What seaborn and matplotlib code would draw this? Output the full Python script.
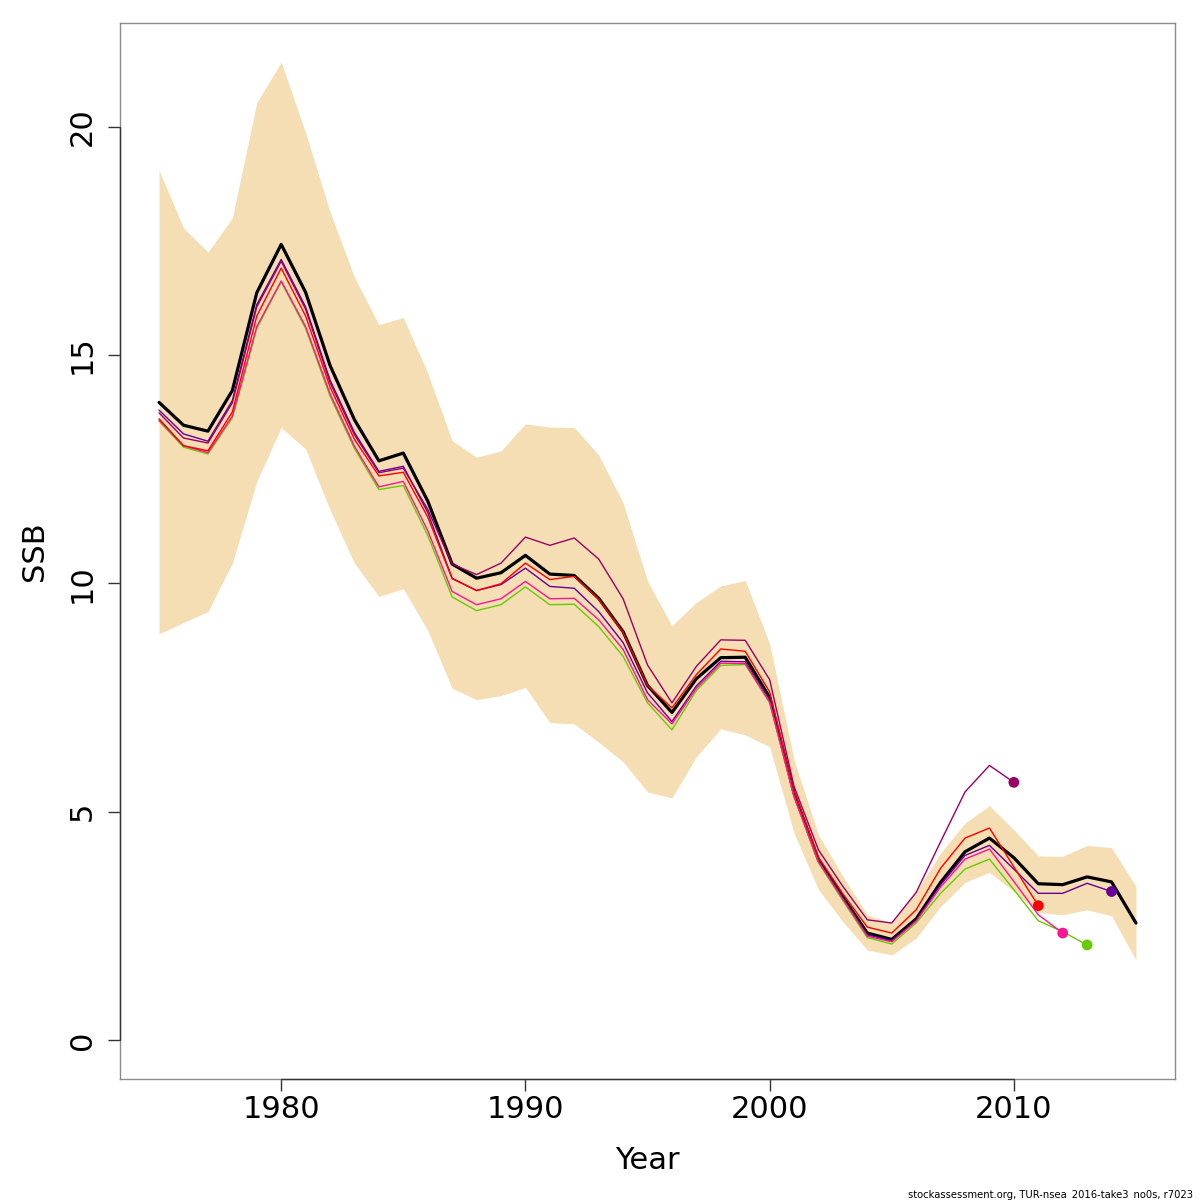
import matplotlib
matplotlib.use("Agg")
import numpy as np
import pandas as pd
import seaborn as sns
import matplotlib.pyplot as plt
from matplotlib.transforms import blended_transform_factory

# ---------------- data ----------------
years = list(range(1975, 2016))

ssb = [13.96, 13.46, 13.33, 14.22, 16.36, 17.42, 16.37, 14.77, 13.58, 12.68,
       12.85, 11.80, 10.42, 10.11, 10.23, 10.61, 10.20, 10.17, 9.67, 8.94,
       7.76, 7.17, 7.91, 8.37, 8.38, 7.50, 5.40, 3.94, 3.13, 2.34,
       2.20, 2.65, 3.45, 4.12, 4.42, 3.99, 3.42, 3.40, 3.57, 3.46,
       2.56]

ssb_upper = [19.04, 17.78, 17.25, 18.00, 20.52, 21.41, 19.86, 18.13, 16.70, 15.66,
             15.82, 14.60, 13.12, 12.76, 12.90, 13.49, 13.42, 13.41, 12.81, 11.76,
             10.05, 9.07, 9.58, 9.94, 10.06, 8.67, 6.13, 4.49, 3.58, 2.74,
             2.56, 3.25, 4.09, 4.75, 5.13, 4.60, 4.03, 4.02, 4.26, 4.21,
             3.36]

ssb_lower = [8.89, 9.14, 9.38, 10.44, 12.23, 13.41, 12.94, 11.61, 10.44, 9.71,
             9.88, 8.97, 7.70, 7.45, 7.54, 7.72, 6.95, 6.92, 6.52, 6.09,
             5.43, 5.30, 6.20, 6.81, 6.68, 6.42, 4.53, 3.29, 2.59, 1.97,
             1.86, 2.23, 2.92, 3.45, 3.67, 3.25, 2.79, 2.74, 2.85, 2.72,
             1.75]

retro_1 = [13.79, 13.27, 13.11, 14.00, 16.10, 17.09, 16.05, 14.45, 13.30, 12.45,
           12.56, 11.55, 10.11, 9.84, 9.97, 10.33, 9.93, 9.89, 9.38, 8.70,
           7.60, 6.97, 7.75, 8.29, 8.28, 7.45, 5.35, 3.92, 3.10, 2.30,
           2.17, 2.62, 3.40, 4.04, 4.26, 3.74, 3.21, 3.21, 3.43, 3.25]

retro_2 = [13.55, 12.98, 12.83, 13.62, 15.58, 16.60, 15.58, 14.10, 12.95, 12.05,
           12.14, 11.05, 9.70, 9.40, 9.53, 9.92, 9.53, 9.54, 9.05, 8.40,
           7.38, 6.79, 7.65, 8.20, 8.22, 7.38, 5.32, 3.88, 3.05, 2.24,
           2.10, 2.56, 3.21, 3.74, 3.96, 3.29, 2.61, 2.37, 2.08]

retro_3 = [13.57, 13.01, 12.86, 13.66, 15.62, 16.62, 15.62, 14.15, 13.00, 12.11,
           12.23, 11.15, 9.82, 9.53, 9.66, 10.04, 9.66, 9.67, 9.20, 8.55,
           7.45, 6.92, 7.70, 8.25, 8.24, 7.40, 5.33, 3.90, 3.08, 2.27,
           2.15, 2.60, 3.35, 3.96, 4.18, 3.47, 2.74, 2.34]

retro_4 = [13.60, 13.01, 12.90, 13.75, 15.85, 16.90, 15.85, 14.30, 13.15, 12.35,
           12.43, 11.45, 10.10, 9.84, 9.99, 10.44, 10.08, 10.15, 9.65, 8.92,
           7.76, 7.27, 8.00, 8.56, 8.51, 7.62, 5.45, 4.00, 3.20, 2.47,
           2.34, 2.85, 3.76, 4.42, 4.64, 3.79, 2.94]

retro_5 = [13.73, 13.18, 13.07, 13.95, 16.05, 17.05, 16.00, 14.40, 13.25, 12.42,
           12.52, 11.62, 10.42, 10.19, 10.44, 11.01, 10.83, 10.99, 10.53, 9.66,
           8.21, 7.38, 8.18, 8.76, 8.75, 7.89, 5.55, 4.16, 3.36, 2.63,
           2.56, 3.23, 4.34, 5.43, 6.01, 5.64]

retro_names = ["peel 1", "peel 2", "peel 3", "peel 4", "peel 5"]
retro_colors = ["#660099", "#66CC00", "#FF1493", "#FF0000", "#990066"]

x_ticks = [1980, 1990, 2000, 2010]
y_ticks = [0, 5, 10, 15, 20]
x_label = "Year"
y_label = "SSB"
footnote = "stockassessment.org, TUR-nsea_2016-take3_no0s, r7023"

# ---------------- tables ----------------
retro_vals = [retro_1, retro_2, retro_3, retro_4, retro_5]
rows = []
for name, vals in zip(retro_names, retro_vals):
    for yr, v in zip(years, vals):
        rows.append({"year": yr, "ssb": v, "peel": name})
retro_df = pd.DataFrame(rows)
end_df = retro_df.groupby("peel", sort=False).tail(1)
main_df = pd.DataFrame({"year": years, "ssb": ssb, "lo": ssb_lower, "hi": ssb_upper})

# ---------------- plot ----------------
sns.set_theme(style="ticks")
plt.rcParams["font.family"] = ["DejaVu Sans"]
plt.rcParams["text.color"] = "black"
plt.rcParams["axes.labelcolor"] = "black"

fig = plt.figure(figsize=(12, 12), dpi=100)
ax = fig.add_axes([0.1, 0.1008, 0.8792, 0.8800])

ax.fill_between(main_df["year"], main_df["lo"], main_df["hi"],
                color="#F5DEB3", lw=0, zorder=1)

sns.lineplot(data=main_df, x="year", y="ssb", color="black", lw=2.3,
             ax=ax, zorder=3, estimator=None)

pal = dict(zip(retro_names, retro_colors))
sns.lineplot(data=retro_df, x="year", y="ssb", hue="peel", palette=pal,
             lw=1.0, ax=ax, zorder=4, estimator=None, legend=False, sort=False)
sns.scatterplot(data=end_df, x="year", y="ssb", hue="peel", palette=pal,
                s=60, edgecolor="none", ax=ax, zorder=5, legend=False)

x0, x1 = min(years), max(years)
dx = 0.04 * (x1 - x0)
ymax = max(ssb_upper)
ax.set_xlim(x0 - dx, x1 + dx)
ax.set_ylim(-0.04 * ymax, 1.04 * ymax)

ax.set_xticks(x_ticks)
ax.set_yticks(y_ticks)
ax.set_xticklabels([str(t) for t in x_ticks])
ax.set_yticklabels([str(t) for t in y_ticks], rotation=90, va="center")
ax.tick_params(axis="both", direction="out", length=8.6, width=1.0,
               color="#333333", labelsize=22, labelcolor="black")
ax.tick_params(axis="x", pad=3.0)
ax.tick_params(axis="y", pad=8.0)

for sp in ax.spines.values():
    sp.set_visible(True)
    sp.set_color("#8c8c8c")
    sp.set_linewidth(1.0)

# R-style axis lines spanning the tick range
tr_y = blended_transform_factory(ax.transAxes, ax.transData)
ax.plot([0, 0], [y_ticks[0], y_ticks[-1]], transform=tr_y, color="#333333",
        lw=1.0, clip_on=False, zorder=6)
tr_x = blended_transform_factory(ax.transData, ax.transAxes)
ax.plot([x_ticks[0], x_ticks[-1]], [0, 0], transform=tr_x, color="#333333",
        lw=1.0, clip_on=False, zorder=6)

ax.set_xlabel(x_label, fontsize=22, va="center", color="black")
ax.xaxis.set_label_coords(0.5, -0.0767)
ax.set_ylabel(y_label, fontsize=22, va="center", color="black")
ax.yaxis.set_label_coords(-0.0806, 0.5)

fig.text(0.9945, 0.0025, footnote, ha="right", va="baseline", fontsize=7.2,
         color="black")

fig.savefig("out.png", dpi=100)
